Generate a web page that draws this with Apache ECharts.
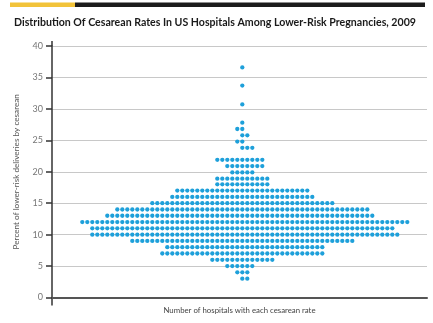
<!DOCTYPE html>
<html>
<head>
<meta charset="utf-8">
<script src="https://cdn.jsdelivr.net/npm/echarts@6/dist/echarts.min.js"></script>
<style>
  html, body { margin: 0; padding: 0; background: #fff; }
  #chart { width: 433px; height: 323px; }
</style>
</head>
<body>
<div id="chart"></div>
<script>
// Cesarean rate (%) of each row of hospitals, top to bottom
const rates = [36.6, 33.7, 30.7, 27.8, 26.8, 25.8, 24.8, 23.8, 21.9, 20.9, 19.9, 18.9,
  18, 17, 16, 15, 14, 13, 12, 11, 10, 9, 8, 7, 6, 5, 4, 3];
// Number of hospitals at each of those rates
const hospitalCounts = [1, 1, 1, 1, 2, 2, 2, 3, 10, 8, 5, 11,
  11, 27, 29, 37, 51, 54, 66, 61, 62, 45, 32, 33, 13, 6, 3, 2];
// Y axis tick labels
const yTicks = [0, 5, 10, 15, 20, 25, 30, 35, 40];

const titleText = 'Distribution Of Cesarean Rates In US Hospitals Among Lower-Risk Pregnancies, 2009';
const yName = 'Percent of lower-risk deliveries by cesarean';
const xName = 'Number of hospitals with each cesarean rate';

// Layout: first slot of rows that are not centred by the default rule
const rowLead = { 25.8: 0, 23.8: 0, 20.9: -3, 12: -32, 10: -30, 8: -15, 3: 0 };

const dots = [];
rates.forEach((r, i) => {
  const n = hospitalCounts[i];
  const lead = (r in rowLead) ? rowLead[r] : -Math.floor(n / 2);
  for (let j = 0; j < n; j++) dots.push([lead + j, r]);
});

const font = 'Lato';
const chart = echarts.init(document.getElementById('chart'), null, { renderer: 'canvas' });

const gridLeft = 52, gridRight = 6, gridTop = 46, gridBottom = 25.5;

chart.setOption({
  animation: false,
  backgroundColor: '#fff',
  title: {
    text: titleText,
    left: 9, top: 12.5,
    textStyle: { fontFamily: font, fontWeight: 'bold', fontSize: 10.6, color: '#1a1a1a' }
  },
  grid: { left: gridLeft, right: gridRight, top: gridTop, bottom: gridBottom },
  xAxis: {
    type: 'value',
    min: -38.06, max: 36.94,
    name: xName,
    nameLocation: 'middle',
    nameGap: 9,
    nameTextStyle: { fontFamily: font, fontSize: 7.8, color: '#444', verticalAlign: 'top' },
    axisLine: { show: true, onZero: false, lineStyle: { color: '#555', width: 2 } },
    axisTick: { show: false },
    axisLabel: { show: false },
    splitLine: { show: false }
  },
  yAxis: {
    type: 'value',
    min: 0, max: 40, interval: 5,
    name: yName,
    nameLocation: 'middle',
    nameGap: 32,
    nameTextStyle: { fontFamily: font, fontSize: 8.2, color: '#555' },
    axisLine: { show: true, onZero: false, lineStyle: { color: '#333', width: 1.5 } },
    axisTick: { show: true, inside: false, length: 6, lineStyle: { color: '#333', width: 1.5 } },
    axisLabel: {
      margin: 9, fontFamily: font, fontSize: 9, color: '#777',
      formatter: v => (yTicks.indexOf(v) >= 0 ? String(v) : '')
    },
    splitLine: { show: true, lineStyle: { color: '#c8c8c8', width: 1 } }
  },
  series: [{
    type: 'scatter',
    data: dots,
    symbol: 'circle',
    symbolSize: 4.3,
    itemStyle: { color: '#1ea0da', opacity: 1 },
    silent: true,
    z: 5
  }]
});

// Header rule and axis-line extensions drawn as decorations
const y0 = chart.convertToPixel({ yAxisIndex: 0 }, 0);
const y40 = chart.convertToPixel({ yAxisIndex: 0 }, 40);
chart.setOption({
  graphic: [
    { type: 'rect', shape: { x: 10, y: 2.5, width: 65, height: 4.5 }, style: { fill: '#f2c33a' } },
    { type: 'rect', shape: { x: 75, y: 2.5, width: 350, height: 4.5 }, style: { fill: '#1c1c1c' } },
    { type: 'line', shape: { x1: gridLeft, y1: y0, x2: gridLeft, y2: y0 + 8 },
      style: { stroke: '#333', lineWidth: 1.5 } },
    { type: 'line', shape: { x1: gridLeft, y1: y40 - 5, x2: gridLeft, y2: y40 },
      style: { stroke: '#333', lineWidth: 1.5 } }
  ]
});
</script>
</body>
</html>
